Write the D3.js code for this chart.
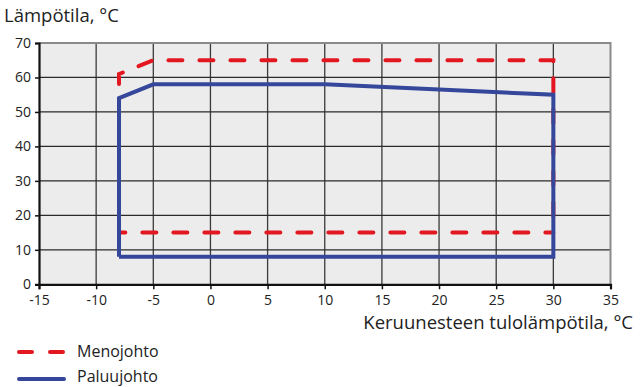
<!DOCTYPE html>
<html><head><meta charset="utf-8">
<script src="https://cdn.jsdelivr.net/npm/d3@7"></script>
<style>body{margin:0;background:#fff}svg{display:block;font-family:"Open Sans","Noto Sans",sans-serif}</style>
</head><body><svg id="c" width="643" height="387"></svg>
<script>
const xTicks = [-15,-10,-5,0,5,10,15,20,25,30,35];
const yTicks = [0,10,20,30,40,50,60,70];
const menoX = [30,-8,-8,-5,30,30];
const menoY = [15,15,61,65,65,15];
const paluuX = [-8,-8,-5,10,30,30,-8];
const paluuY = [8,54,58,58,55,8,8];
const seriesNames = ["Menojohto","Paluujohto"];
const colors = ["#e3171f","#35479a"];

const svg = d3.select("#c");
const x = d3.scaleLinear().domain([-15,35]).range([39,610.5]);
const y = d3.scaleLinear().domain([0,70]).range([284.3,43]);

svg.append("rect").attr("x",x(-15)).attr("y",y(70)).attr("width",x(35)-x(-15)).attr("height",y(0)-y(70)).attr("fill","#ececec");

// grid
svg.append("g").selectAll("line").data(xTicks.slice(1,-1)).join("line")
  .attr("x1",d=>x(d)).attr("x2",d=>x(d)).attr("y1",y(0)).attr("y2",y(70))
  .attr("stroke","#3a3a3a").attr("stroke-width",1.3);
svg.append("g").selectAll("line").data(yTicks.slice(1,-1)).join("line")
  .attr("x1",x(-15)).attr("x2",x(35)).attr("y1",d=>y(d)).attr("y2",d=>y(d))
  .attr("stroke","#2a2a2a").attr("stroke-width",1.3);
// top & right border
svg.append("path").attr("d",`M${x(-15)},${y(70)}H${x(35)}V${y(0)}`).attr("fill","none").attr("stroke","#8a8a8a").attr("stroke-width",2);

// axes
const xa = svg.append("g").attr("transform",`translate(0,${y(0)})`)
  .call(d3.axisBottom(x).tickValues(xTicks).tickSize(5).tickPadding(2).tickFormat(d3.format("d")));
const ya = svg.append("g").attr("transform",`translate(${x(-15)},0)`)
  .call(d3.axisLeft(y).tickValues(yTicks).tickSize(4).tickPadding(4).tickFormat(d3.format("d")));
[xa,ya].forEach(a=>{
  a.select(".domain").attr("stroke","#111").attr("stroke-width",2.2);
  a.selectAll(".tick line").attr("stroke","#111").attr("stroke-width",1.5);
  a.selectAll("text").attr("font-size",14).attr("fill","#222").attr("font-family",'"Open Sans","Noto Sans",sans-serif');
});
xa.selectAll("text").attr("dy","0.95em");
xa.selectAll(".tick text").text(d=>d<0?"-"+Math.abs(d):d);

const line = d3.line().x(d=>x(d[0])).y(d=>y(d[1]));
svg.append("path").datum(menoX.map((v,i)=>[v,menoY[i]])).attr("d",line)
  .attr("fill","none").attr("stroke",colors[0]).attr("stroke-width",4)
  .attr("stroke-dasharray","14,17").attr("stroke-dashoffset",6).attr("stroke-linecap","round");
svg.append("path").datum(paluuX.map((v,i)=>[v,paluuY[i]])).attr("d",line)
  .attr("fill","none").attr("stroke",colors[1]).attr("stroke-width",4).attr("stroke-linejoin","miter");

// titles
svg.append("text").attr("x",4).attr("y",22).attr("font-size",18.5).attr("fill","#222").text("Lämpötila, °C");
svg.append("text").attr("x",633).attr("y",329).attr("text-anchor","end").attr("font-size",18.5).attr("fill","#222").text("Keruunesteen tulolämpötila, °C");

// legend
const lg = svg.append("g");
seriesNames.forEach((n,i)=>{
  const yy = 352 + i*27;
  lg.append("line").attr("x1",19).attr("x2",64).attr("y1",yy).attr("y2",yy)
    .attr("stroke",colors[i]).attr("stroke-width",4).attr("stroke-linecap","round")
    .attr("stroke-dasharray",i===0?"13,18":null);
  lg.append("text").attr("x",77).attr("y",yy+(i===0?5:3)).attr("font-size",16).attr("fill","#222").text(n);
});
</script></body></html>
